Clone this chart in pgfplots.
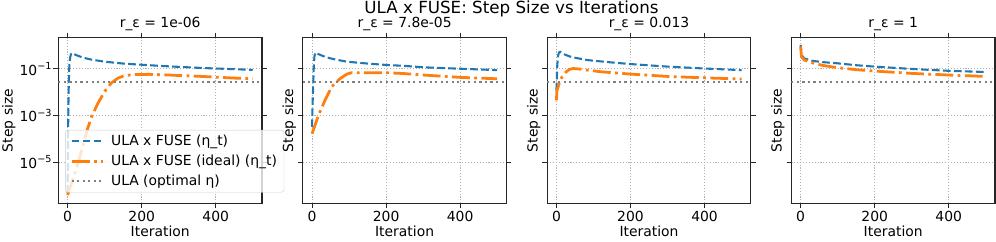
\documentclass[border=0pt]{standalone}
\usepackage{fontspec}
\setmainfont{DejaVu Sans}
\usepackage{pgfplots}
\pgfplotsset{compat=1.18}
\definecolor{mplblue}{HTML}{1F77B4}
\definecolor{mplorange}{HTML}{FF7F0E}
\newcommand{\myfs}{\fontsize{13.9bp}{16bp}\selectfont}
\newcommand{\mybigfs}{\fontsize{16.7bp}{19bp}\selectfont}
\newcommand{\tenp}[1]{10\raisebox{0.42em}{\fontsize{9.7bp}{10bp}\selectfont #1}}
\tikzset{
  bluel/.style={color=mplblue, line width=2.08bp, dash pattern=on 7.7bp off 3.3bp, line join=round},
  orangel/.style={color=mplorange, line width=2.78bp, dash pattern=on 17.8bp off 4.4bp on 2.8bp off 4.4bp, line join=round},
  grayl/.style={color=gray, line width=2.08bp, dash pattern=on 2.08bp off 3.44bp},
}
\pgfplotsset{myaxis/.style={
  scale only axis, width=203.6bp, height=165.6bp, anchor=south west,
  xmin=-25, xmax=525, ymin=1.778e-7, ymax=2.113,
  xtick={0,200,400}, xticklabels={0,200,400},
  ytick={1e-5,1e-3,1e-1},
  xminorticks=false, yminorticks=false,
  tick align=outside, major tick length=4.9bp,
  tick style={line width=1.1bp, color=black!85},
  axis line style={line width=1.1bp, color=black!85},
  grid=major, major grid style={color=black!30, line width=0.8bp, dash pattern=on 1.1bp off 1.8bp},
  tick label style={font=\myfs},
  xticklabel style={anchor=north, inner sep=0pt, yshift=-3.1bp, font=\myfs},
  yticklabel style={anchor=east, inner sep=0pt, xshift=-1.7bp, font=\myfs},
  xlabel={Iteration}, ylabel={Step size},
  label style={font=\myfs},
  xlabel style={at={(rel axis cs:0.5,0)}, anchor=base, yshift=-32.7bp, inner sep=0pt, font=\myfs},
  title style={at={(rel axis cs:0.5,1)}, anchor=base, yshift=4.6bp, inner sep=0pt, font=\myfs},
  legend cell align=left,
  legend image code/.code={\draw[##1] (0bp,0bp) -- (31bp,0bp); \path (36bp,0bp);},
}}
\begin{document}
\begin{tikzpicture}
\useasboundingbox (0,0) rectangle (996bp,242bp);
\node[font=\mybigfs, anchor=base, inner sep=0pt] at (511.5bp,228.6bp) {ULA x FUSE: Step Size vs Iterations};

% Panel 1
\begin{axis}[ymode=log, myaxis, at={(58.4bp,38.7bp)},
  title={r\_ε = 1e-06},
  yticklabels={\tenp{−5},\tenp{−3},\tenp{−1}},
  ylabel style={at={([xshift=-49.7bp]rel axis cs:0,0.5)}, anchor=center, inner sep=0pt, font=\myfs},
  legend style={at={(0.033,0.443)}, anchor=north west, font=\myfs, draw=black!20, fill=white, fill opacity=0.8, text opacity=1, draw opacity=1, rounded corners=2.8bp, inner xsep=5bp, inner ysep=3bp, row sep=4bp},
]
\addplot[bluel] coordinates {(0,5.0e-7) (1,1.0e-4) (2,2.5e-3) (3,0.02) (4,0.0794) (5,0.178) (7,0.316) (9,0.417) (11,0.468) (15,0.437) (25,0.372) (40,0.302) (64,0.245) (100,0.200) (150,0.166) (200,0.148) (250,0.132) (300,0.120) (350,0.110) (400,0.102) (450,0.0955) (500,0.0891)};
\addlegendentry{ULA x FUSE (η\_t)}
\addplot[orangel] coordinates {(0,3.98e-7) (29,1e-5) (54,2.82e-4) (66,1e-3) (82,3.39e-3) (100,0.0107) (118,0.0245) (136,0.0398) (155,0.0513) (180,0.0562) (220,0.0575) (260,0.055) (300,0.0513) (350,0.0479) (400,0.0437) (450,0.0398) (500,0.0372)};
\addlegendentry{ULA x FUSE (ideal) (η\_t)}
\addplot[grayl] coordinates {(-25,0.0267) (525,0.0267)};
\addlegendentry{ULA (optimal η)}
\end{axis}

% Panel 2
\begin{axis}[ymode=log, myaxis, at={(302.8bp,38.7bp)},
  title={r\_ε = 7.8e-05},
  yticklabels={},
  ylabel style={at={([xshift=-13.5bp]rel axis cs:0,0.5)}, anchor=center, inner sep=0pt, font=\myfs},
]
\addplot[bluel] coordinates {(0,3.24e-4) (1,1.58e-3) (2,6.3e-3) (3,0.017) (4.5,0.1) (6.3,0.331) (9,0.49) (15,0.437) (25,0.372) (40,0.302) (64,0.245) (94,0.200) (150,0.166) (200,0.145) (250,0.132) (300,0.115) (350,0.107) (400,0.100) (450,0.0933) (500,0.0871)};
\addplot[orangel] coordinates {(0,1.66e-4) (17,1e-3) (35,4.47e-3) (53,0.017) (76,0.038) (94,0.0589) (107,0.0676) (150,0.0676) (202,0.0676) (250,0.0617) (300,0.0537) (350,0.0479) (400,0.0427) (450,0.0398) (500,0.0372)};
\addplot[grayl] coordinates {(-25,0.0267) (525,0.0267)};
\end{axis}

% Panel 3
\begin{axis}[ymode=log, myaxis, at={(547.2bp,38.7bp)},
  title={r\_ε = 0.013},
  yticklabels={},
  ylabel style={at={([xshift=-13.5bp]rel axis cs:0,0.5)}, anchor=center, inner sep=0pt, font=\myfs},
]
\addplot[bluel] coordinates {(0,0.012) (2,0.123) (4,0.331) (6,0.457) (9,0.537) (20,0.417) (40,0.316) (83,0.234) (140,0.191) (200,0.158) (300,0.123) (400,0.102) (500,0.0871)};
\addplot[orangel] coordinates {(0,4.47e-3) (1,0.0112) (3,0.0141) (8,0.0251) (15,0.0447) (25,0.0708) (35,0.0933) (45,0.102) (60,0.0977) (83,0.0871) (120,0.0741) (160,0.0661) (200,0.0589) (300,0.0468) (400,0.0407) (500,0.0363)};
\addplot[grayl] coordinates {(-25,0.0267) (525,0.0267)};
\end{axis}

% Panel 4
\begin{axis}[ymode=log, myaxis, at={(791.4bp,38.7bp)},
  title={r\_ε = 1},
  yticklabels={},
  ylabel style={at={([xshift=-13.5bp]rel axis cs:0,0.5)}, anchor=center, inner sep=0pt, font=\myfs},
]
\addplot[bluel] coordinates {(0,1.047) (2,0.389) (10,0.275) (30,0.219) (60,0.191) (100,0.170) (150,0.141) (200,0.123) (300,0.0977) (400,0.0813) (500,0.0724)};
\addplot[orangel] coordinates {(0,0.891) (2,0.331) (10,0.234) (30,0.182) (60,0.138) (100,0.110) (150,0.0912) (200,0.0794) (300,0.0631) (400,0.0537) (500,0.0468)};
\addplot[grayl] coordinates {(-25,0.0267) (525,0.0267)};
\end{axis}
\end{tikzpicture}
\end{document}
